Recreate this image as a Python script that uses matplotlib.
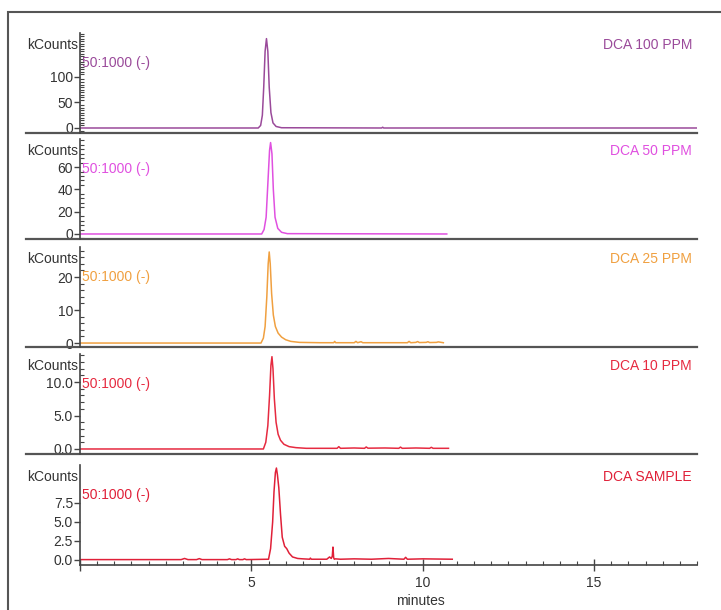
import numpy as np
import matplotlib.pyplot as plt
from matplotlib.patches import Rectangle
from matplotlib.ticker import MultipleLocator

plt.rcParams['font.family'] = ['Liberation Sans', 'DejaVu Sans']

# chromatogram traces: (minutes, kCounts)
ppm100 = [(0, 0), (5.2, 0), (5.27, 5), (5.32, 25), (5.36, 80), (5.4, 150), (5.44, 175),
          (5.48, 150), (5.52, 80), (5.57, 30), (5.63, 10), (5.72, 3), (5.88, 0.5),
          (8.8, 0), (8.83, 1.5), (8.86, 0), (18, 0)]
ppm50 = [(0, 0), (5.3, 0), (5.37, 4), (5.43, 15), (5.48, 45), (5.53, 75), (5.56, 82),
         (5.6, 72), (5.64, 40), (5.69, 15), (5.77, 5), (5.88, 1.5), (6.05, 0.3), (10.7, 0)]
ppm25 = [(0, 0), (5.28, 0), (5.35, 1.5), (5.4, 5), (5.45, 14), (5.49, 24), (5.52, 27.6),
         (5.55, 24), (5.59, 15), (5.64, 8.5), (5.7, 5), (5.78, 3), (5.88, 1.8), (6.0, 1),
         (6.15, 0.5), (6.4, 0.2), (7.0, 0.1), (7.4, 0.1), (7.43, 0.5), (7.46, 0.1),
         (8.0, 0.1), (8.05, 0.5), (8.1, 0.1), (8.2, 0.4), (8.25, 0.1), (9.0, 0.1),
         (9.55, 0.1), (9.6, 0.5), (9.65, 0.1), (9.8, 0.2), (9.85, 0.45), (9.9, 0.15),
         (10.1, 0.2), (10.15, 0.4), (10.2, 0.15), (10.4, 0.2), (10.45, 0.35), (10.6, 0.1)]
ppm10 = [(0, 0), (5.35, 0), (5.42, 1.0), (5.48, 3.5), (5.53, 8), (5.57, 12.5), (5.6, 13.8),
         (5.63, 12), (5.67, 7.5), (5.72, 4), (5.78, 2.2), (5.85, 1.3), (5.95, 0.7),
         (6.1, 0.35), (6.3, 0.2), (6.6, 0.1), (7.2, 0.1), (7.5, 0.1), (7.55, 0.35),
         (7.6, 0.1), (8.0, 0.15), (8.3, 0.1), (8.35, 0.3), (8.4, 0.12), (8.9, 0.15),
         (9.3, 0.1), (9.35, 0.28), (9.4, 0.1), (9.8, 0.15), (10.2, 0.1), (10.25, 0.25),
         (10.3, 0.1), (10.75, 0.1)]
sample = [(0, 0.05), (2.95, 0.05), (3.05, 0.2), (3.15, 0.05), (3.4, 0.05), (3.48, 0.18),
          (3.56, 0.05), (4.3, 0.05), (4.36, 0.15), (4.42, 0.05), (4.55, 0.05), (4.6, 0.15),
          (4.65, 0.05), (4.75, 0.05), (4.8, 0.15), (4.85, 0.05), (5.5, 0.1), (5.56, 1.5),
          (5.62, 5), (5.66, 9), (5.7, 11.5), (5.73, 12.1), (5.76, 11.2), (5.8, 9.5),
          (5.85, 6), (5.9, 3), (5.97, 1.8), (6.03, 1.5), (6.1, 0.9), (6.2, 0.4),
          (6.35, 0.2), (6.5, 0.15), (6.7, 0.1), (6.72, 0.25), (6.75, 0.1), (7.2, 0.1),
          (7.28, 0.4), (7.33, 0.2), (7.36, 0.5), (7.38, 1.7), (7.4, 0.3), (7.42, 0.1),
          (7.45, 0.15), (7.6, 0.1), (8.0, 0.15), (8.5, 0.1), (9.0, 0.2), (9.45, 0.1),
          (9.5, 0.35), (9.55, 0.1), (10.0, 0.15), (10.86, 0.1)]

traces = [ppm100, ppm50, ppm25, ppm10, sample]
titles = ['DCA 100 PPM', 'DCA 50 PPM', 'DCA 25 PPM', 'DCA 10 PPM', 'DCA SAMPLE']
colors = ['#9a4a9a', '#e050e0', '#f0a040', '#e62a40', '#e02038']
ylims = [(-9.8, 186), (-4.5, 85.2), (-1.2, 29.1), (-0.75, 14.2), (-0.66, 12.5)]
yticks = [[0, 50, 100], [0, 20, 40, 60], [0, 10, 20], [0, 5, 10], [0, 2.5, 5, 7.5]]
ytick_labels = [['0', '50', '100'], ['0', '20', '40', '60'], ['0', '10', '20'],
                ['0.0', '5.0', '10.0'], ['0.0', '2.5', '5.0', '7.5']]
yminor = [5, 4, 2, 1, None]
xticks = [0, 5, 10, 15]
xtick_labels = ['', '5', '10', '15']
channel = '50:1000 (-)'

W, H = 721, 610
fig = plt.figure(figsize=(W / 100, H / 100), dpi=100)
fig.patches.append(Rectangle((8 / W, -0.05), 1.1, 1 - 12 / H + 0.05, transform=fig.transFigure,
                             fill=False, edgecolor='#555555', lw=1.5))

bottoms = [133, 239, 347, 454, 565]
grey = '#444444'
for i in range(5):
    b = bottoms[i]
    ax = fig.add_axes([80 / W, 1 - b / H, 617 / W, 100 / H])
    pts = np.array(traces[i])
    ax.plot(pts[:, 0], pts[:, 1], color=colors[i], lw=1.1)
    ax.set_xlim(0, 18)
    ax.set_ylim(*ylims[i])
    ax.patch.set_alpha(0)
    for s in ['top', 'right']:
        ax.spines[s].set_visible(False)
    ax.spines['left'].set_color(grey)
    ax.spines['left'].set_linewidth(1.2)
    ax.set_yticks(yticks[i])
    ax.set_yticklabels(ytick_labels[i])
    if yminor[i]:
        ax.yaxis.set_minor_locator(MultipleLocator(yminor[i]))
    ax.tick_params(axis='y', which='major', direction='out', length=4, width=1,
                   color=grey, labelsize=10, labelcolor='#333333', pad=1)
    ax.tick_params(axis='y', which='minor', direction='in', length=3, width=0.8, color=grey)
    if i < 4:
        ax.spines['bottom'].set_visible(False)
        ax.set_xticks([])
        ax.plot([-0.087, 1], [0, 0], transform=ax.transAxes, color='#555555', lw=1.6,
                clip_on=False)
    else:
        ax.spines['bottom'].set_color(grey)
        ax.spines['bottom'].set_linewidth(1.2)
        ax.set_xticks(xticks)
        ax.set_xticklabels(xtick_labels)
        ax.xaxis.set_minor_locator(MultipleLocator(0.5))
        ax.tick_params(axis='x', which='major', direction='inout', length=8, width=1,
                       color=grey, labelsize=10, labelcolor='#333333', pad=4)
        ax.tick_params(axis='x', which='minor', direction='in', length=3, width=0.8, color=grey)
        ax.set_xlabel('minutes', fontsize=10, color='#333333', x=0.551, labelpad=3)
    ax.text(-0.003, 0.88, 'kCounts', transform=ax.transAxes, ha='right', va='center',
            fontsize=10, color='#333333')
    ax.text(0.004, 0.70, channel, transform=ax.transAxes, ha='left', va='center',
            fontsize=10, color=colors[i])
    ax.text(0.992, 0.88, titles[i], transform=ax.transAxes, ha='right', va='center',
            fontsize=10, color=colors[i])

fig.savefig('out.png', dpi=100)
